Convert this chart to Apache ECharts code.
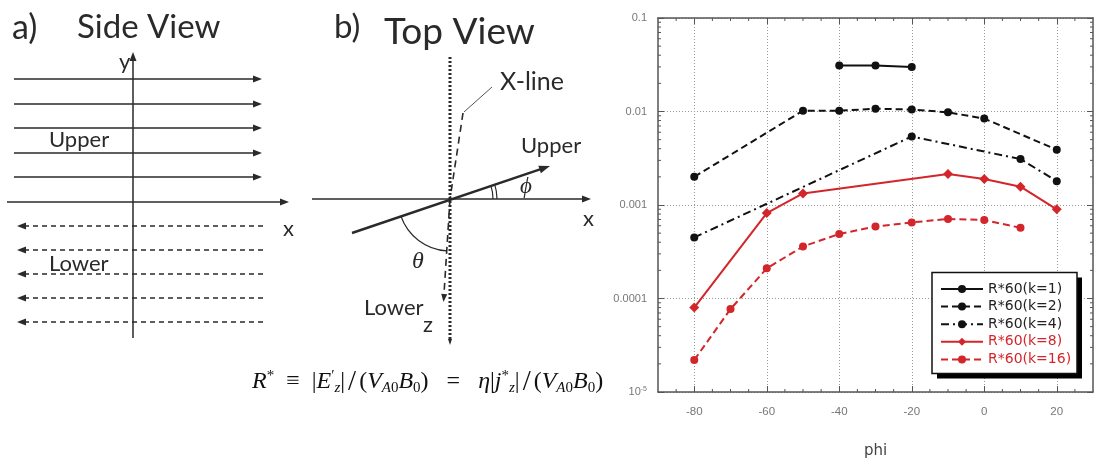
<!DOCTYPE html>
<html><head><meta charset="utf-8">
<script src="https://cdn.jsdelivr.net/npm/echarts@6/dist/echarts.min.js"></script>
<style>html,body{margin:0;padding:0;background:#fff}#c{width:1094px;height:458px}</style>
</head><body><div id="c"></div>
<script>
// ---- data ----
const xTicks = [-80, -60, -40, -20, 0, 20];
const xMinorTicks = [-85, -75, -70, -65, -55, -50, -45, -35, -30, -25, -15, -10, -5, 5, 10, 15, 25];
const yTickLabels = {'-1': '0.1', '-2': '0.01', '-3': '0.001', '-4': '0.0001'};
const seriesNames = ['R*60(k=1)', 'R*60(k=2)', 'R*60(k=4)', 'R*60(k=8)', 'R*60(k=16)'];
const k1Phi = [-40, -30, -20];
const k1Val = [0.031, 0.031, 0.030];
const k2Phi = [-80, -50, -40, -30, -20, -10, 0, 20];
const k2Val = [0.0020, 0.0102, 0.0102, 0.0107, 0.0105, 0.0098, 0.0084, 0.0039];
const k4Phi = [-80, -20, 10, 20];
const k4Val = [0.00045, 0.0054, 0.0031, 0.0018];
const k8Phi = [-80, -60, -50, -10, 0, 10, 20];
const k8Val = [0.00008, 0.00082, 0.00133, 0.00215, 0.0019, 0.00157, 0.0009];
const k16Phi = [-80, -70, -60, -50, -40, -30, -20, -10, 0, 10];
const k16Val = [0.000022, 0.000077, 0.00021, 0.00036, 0.00049, 0.00059, 0.00065, 0.00071, 0.00069, 0.00057];
const yMinorTicks = [];
[-5, -4, -3, -2].forEach(function (e) { for (let m = 2; m <= 9; m++) yMinorTicks.push(m * Math.pow(10, e)); });

const pairs = (xs, ys) => xs.map((x, i) => [x, ys[i]]);
const RED = '#d2262b', INK = '#2a2a2a';

// ---- diagram helpers (illustration, not data) ----
const G = [];
function seg(x1, y1, x2, y2, o) {
  o = o || {};
  G.push({type: 'line', silent: true, shape: {x1, y1, x2, y2},
    style: {stroke: o.c || INK, lineWidth: o.w || 1.5, lineDash: o.dash || null}});
}
function head(x1, y1, x2, y2, o) {
  o = o || {};
  const L = o.L || 9, w = o.hw || 3.5;
  const d = Math.hypot(x2 - x1, y2 - y1), ux = (x2 - x1) / d, uy = (y2 - y1) / d;
  const bx = x2 - L * ux, by = y2 - L * uy;
  G.push({type: 'polygon', silent: true,
    shape: {points: [[x2, y2], [bx - w * uy, by + w * ux], [bx + w * uy, by - w * ux]]},
    style: {fill: o.c || INK}});
}
function arrow(x1, y1, x2, y2, o) {
  o = o || {};
  const L = o.L || 9;
  const d = Math.hypot(x2 - x1, y2 - y1);
  const ex = x2 - (x2 - x1) / d * (L - 2), ey = y2 - (y2 - y1) / d * (L - 2);
  seg(x1, y1, ex, ey, o);
  head(x1, y1, x2, y2, o);
}
function txt(s, x, y, font, o) {
  o = o || {};
  G.push({type: 'text', silent: true,
    style: {text: s, x, y, font, fill: o.c || INK, textAlign: o.align || 'left', textVerticalAlign: 'middle'}});
}
function arc(cx, cy, r, a0, a1) {
  G.push({type: 'arc', silent: true,
    shape: {cx, cy, r, startAngle: a0 * Math.PI / 180, endAngle: a1 * Math.PI / 180, clockwise: true},
    style: {stroke: INK, lineWidth: 1.2, fill: null}});
}

const SANS = 'Lato, "Open Sans", sans-serif';
// a) Side View
txt('a)', 12, 28, '34px ' + SANS);
txt('Side View', 77, 27, '33px ' + SANS);
arrow(133, 338, 133, 52, {w: 1.5});
txt('y', 119, 62, '22px ' + SANS);
[79, 104, 128, 153, 177].forEach(y => arrow(14, y, 262, y, {w: 1.5}));
arrow(7, 202, 289, 202, {w: 1.5});
txt('x', 283, 229, '22px ' + SANS);
[226, 250, 274, 298, 322].forEach(y => arrow(263, y, 17, y, {w: 1.3, dash: [5, 4]}));
txt('Upper', 49, 140, '22px ' + SANS);
txt('Lower', 49, 264, '22px ' + SANS);

// b) Top View
txt('b)', 334, 27, '33px ' + SANS);
txt('Top View', 384, 32, '37px ' + SANS);
seg(450, 57, 450, 340, {w: 3, dash: [2, 2]});
head(450, 330, 450, 345, {L: 6, hw: 2});
arrow(312, 199, 591, 199, {w: 1.3});
txt('x', 583, 219, '22px ' + SANS);
seg(463, 113, 450, 199, {w: 1.6, dash: [7, 5]});
seg(450, 199, 444, 294, {w: 1.6, dash: [7, 5]});
head(444.6, 290, 443.5, 302, {L: 8, hw: 3});
seg(492, 87, 464, 112, {w: 0.8});
txt('X-line', 500, 82, '25px ' + SANS);
arrow(352, 233, 550, 166, {w: 2.4, L: 11, hw: 4});
txt('Upper', 521, 146, '22px ' + SANS);
arc(450, 199, 43, -18.4, 0);
arc(450, 199, 47, -18.4, 0);
txt('\u03d5', 520, 187, 'italic 23px "Liberation Serif", serif');
arc(450, 199, 52, 93.4, 160.9);
txt('\u03b8', 412, 262, 'italic 24px "Liberation Serif", serif');
txt('Lower', 364, 308, '22px ' + SANS);
txt('z', 423, 325, '22px ' + SANS);

// formula
const FS = '"Liberation Serif", "DejaVu Serif", serif';
G.push({type: 'text', silent: true,
  style: {
    x: 252, y: 382, textVerticalAlign: 'middle',
    text: '{i|R}{sup|*}{n|  \u2261  |}{i|E}{sup|\u2032}{sub|z}{n||}{sl|/}{n|(}{i|V}{sub|A}{subn|0}{i|B}{subn|0}{n|)   =   }{i|\u03b7}{n||}{i|j}{sup|*}{sub|z}{n||}{sl|/}{n|(}{i|V}{sub|A}{subn|0}{i|B}{subn|0}{n|)}',
    fill: '#111',
    rich: {
      i: {fontFamily: FS, fontStyle: 'italic', fontSize: 24, fill: '#111'},
      n: {fontFamily: FS, fontSize: 24, fill: '#111'},
      sl: {fontFamily: FS, fontSize: 29, fill: '#111', padding: [0, 3, 0, 3]},
      sup: {fontFamily: FS, fontSize: 15, padding: [0, 0, 11, 0], fill: '#111'},
      sub: {fontFamily: FS, fontStyle: 'italic', fontSize: 15, padding: [12, 0, 0, 0], fill: '#111'},
      subn: {fontFamily: FS, fontSize: 15, padding: [12, 0, 0, 0], fill: '#111'}
    }
  }});

// legend frame (decoration): shadow + white box
G.push({type: 'rect', silent: true, z: 50, shape: {x: 937, y: 277.5, width: 145, height: 101}, style: {fill: '#000'}});
G.push({type: 'rect', silent: true, z: 51, shape: {x: 932, y: 272.5, width: 145, height: 101}, style: {fill: '#fff', stroke: '#111', lineWidth: 1.5}});

// ---- chart ----
const axisCol = '#555';
const chart = echarts.init(document.getElementById('c'), null, {renderer: 'canvas'});
const lineSeries = (name, data, color, dash, symbol, size) => ({
  name, type: 'line', data, xAxisIndex: 0, yAxisIndex: 0,
  symbol: symbol, symbolSize: size, showSymbol: true,
  itemStyle: {color: color},
  lineStyle: {color: color, width: 2, type: dash},
  animation: false, z: 5
});
const tickCol = {color: axisCol, width: 1};
chart.setOption({
  animation: false,
  backgroundColor: '#fff',
  graphic: {elements: G},
  grid: {left: 658, right: 1, top: 18, bottom: 66, containLabel: false, outerBoundsMode: 'none'},
  legend: {
    orient: 'vertical', left: 940, top: 282, z: 60,
    data: seriesNames.map((n, i) => ({name: n, textStyle: {color: i >= 3 ? RED : '#222'}})),
    itemWidth: 42, itemHeight: 10, itemGap: 3.6,
    padding: 0,
    textStyle: {fontSize: 14, lineHeight: 14, fontFamily: '"DejaVu Sans", sans-serif'},
    backgroundColor: 'transparent', borderWidth: 0
  },
  xAxis: [{
    type: 'value', min: -90, max: 30,
    name: 'phi', nameLocation: 'middle', nameGap: 52,
    nameTextStyle: {fontSize: 15, color: '#444', fontFamily: '"DejaVu Sans", sans-serif'},
    axisLine: {show: true, onZero: false, lineStyle: {color: axisCol, width: 1.5}},
    axisTick: {show: true, inside: true, length: 6, lineStyle: tickCol, customValues: xTicks},
    axisLabel: {color: '#777', fontSize: 11.5, margin: 14, customValues: xTicks},
    splitLine: {show: true, lineStyle: {color: '#999', type: [1, 2], width: 1}}
  }, {
    type: 'value', min: -90, max: 30, position: 'top',
    axisLine: {show: true, onZero: false, lineStyle: {color: axisCol, width: 1.5}},
    axisTick: {show: true, inside: true, length: 6, lineStyle: tickCol, customValues: xTicks},
    axisLabel: {show: false, customValues: xTicks}, splitLine: {show: false}
  }],
  yAxis: [{
    type: 'log', logBase: 10, min: 1e-5, max: 0.1, position: 'left',
    axisLine: {show: true, onZero: false, lineStyle: {color: axisCol, width: 1.5}},
    axisTick: {show: true, inside: true, length: 6, lineStyle: tickCol},
    axisLabel: {color: '#777', fontSize: 11, margin: 11,
      formatter: function (v) {
        const e = Math.round(Math.log10(v));
        if (e === -5) return '10{s|-5}';
        return yTickLabels[String(e)] || '';
      },
      rich: {s: {fontSize: 7, color: '#777', padding: [0, 0, 6, 0]}}},
    splitLine: {show: true, lineStyle: {color: '#999', type: [1, 2], width: 1}}
  }, {
    type: 'log', logBase: 10, min: 1e-5, max: 0.1, position: 'right',
    axisLine: {show: true, onZero: false, lineStyle: {color: axisCol, width: 1.5}},
    axisTick: {show: true, inside: true, length: 6, lineStyle: tickCol},
    axisLabel: {show: false}, splitLine: {show: false}
  }],
  series: [
    lineSeries(seriesNames[0], pairs(k1Phi, k1Val), '#111', 'solid', 'circle', 8),
    lineSeries(seriesNames[1], pairs(k2Phi, k2Val), '#111', [7, 4], 'circle', 8),
    lineSeries(seriesNames[2], pairs(k4Phi, k4Val), '#111', [8, 4, 2, 4], 'circle', 8),
    lineSeries(seriesNames[3], pairs(k8Phi, k8Val), RED, 'solid', 'diamond', 10),
    lineSeries(seriesNames[4], pairs(k16Phi, k16Val), RED, [7, 4], 'circle', 8),
    {
      // log-spaced minor ticks on left and right frame
      type: 'custom', silent: true, animation: false, clip: false, z: 3,
      data: yMinorTicks.map(v => [-90, v]),
      renderItem: function (params, api) {
        const cs = params.coordSys;
        const p = api.coord([-90, api.value(1)]);
        const st = {stroke: axisCol, lineWidth: 1};
        return {type: 'group', children: [
          {type: 'line', shape: {x1: cs.x, y1: p[1], x2: cs.x + 3, y2: p[1]}, style: st},
          {type: 'line', shape: {x1: cs.x + cs.width - 3, y1: p[1], x2: cs.x + cs.width, y2: p[1]}, style: st}
        ]};
      }
    },
    {
      // minor ticks every 5 on bottom and top frame
      type: 'custom', silent: true, animation: false, clip: false, z: 3,
      data: xMinorTicks.map(v => [v, 1e-5]),
      renderItem: function (params, api) {
        const cs = params.coordSys;
        const p = api.coord([api.value(0), 1e-5]);
        const st = {stroke: axisCol, lineWidth: 1};
        return {type: 'group', children: [
          {type: 'line', shape: {x1: p[0], y1: cs.y + cs.height, x2: p[0], y2: cs.y + cs.height - 3}, style: st},
          {type: 'line', shape: {x1: p[0], y1: cs.y, x2: p[0], y2: cs.y + 3}, style: st}
        ]};
      }
    }
  ]
});
</script></body></html>
